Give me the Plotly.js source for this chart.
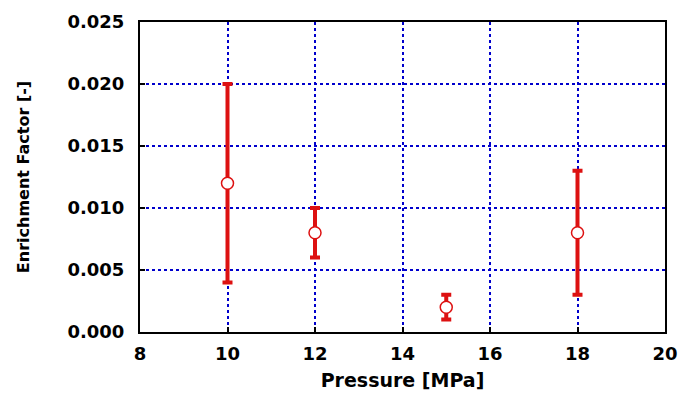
<!DOCTYPE html>
<html><head><meta charset="utf-8">
<script src="https://cdn.plot.ly/plotly-3.0.1.min.js"></script>
<style>body{margin:0;padding:0;background:#fff}</style>
</head><body>
<div id="chart" style="width:681px;height:394px"></div>
<script>
const pressure = [10, 12, 15, 18];
const enrichment = [0.012, 0.008, 0.002, 0.008];
const errUpper = [0.008, 0.002, 0.001, 0.005];
const errLower = [0.008, 0.002, 0.001, 0.005];
const xTicks = [8, 10, 12, 14, 16, 18, 20];
const yTicks = [0, 0.005, 0.010, 0.015, 0.020, 0.025];
const yTickText = ['0.000', '0.005', '0.010', '0.015', '0.020', '0.025'];

const tickFont = {family: 'DejaVu Sans, Liberation Sans, Arial', size: 18, color: '#000', weight: 'bold'};

const trace = {
  x: pressure, y: enrichment, type: 'scatter', mode: 'markers',
  marker: {symbol: 'circle', size: 12, color: '#ffffff', line: {color: '#dd1111', width: 1.5}},
  error_y: {type: 'data', symmetric: false, array: errUpper, arrayminus: errLower,
            color: '#dd1111', thickness: 4, width: 5},
  showlegend: false
};

const layout = {
  width: 681, height: 394,
  margin: {l: 140, r: 16, t: 22, b: 62},
  paper_bgcolor: '#fff', plot_bgcolor: '#fff',
  xaxis: {
    range: [8, 20], tickvals: xTicks, ticktext: xTicks.map(String),
    showgrid: true, gridcolor: '#0000cc', gridwidth: 2, griddash: 'dot',
    showline: true, linecolor: '#000', linewidth: 2, mirror: true,
    ticks: 'inside', ticklen: 5, tickwidth: 2, tickcolor: '#000',
    zeroline: false, tickfont: tickFont, ticklabelstandoff: 4,
    title: {text: 'Pressure [MPa]', font: {family: 'DejaVu Sans, Arial', size: 19, color: '#000', weight: 'bold'}, standoff: 11}
  },
  yaxis: {
    range: [0, 0.025], tickvals: yTicks, ticktext: yTickText,
    showgrid: true, gridcolor: '#0000cc', gridwidth: 2, griddash: 'dot',
    showline: true, linecolor: '#000', linewidth: 2, mirror: true,
    ticks: 'inside', ticklen: 5, tickwidth: 2, tickcolor: '#000',
    zeroline: false, tickfont: tickFont, ticklabelstandoff: 10,
    title: {text: 'Enrichment Factor [-]', font: {family: 'DejaVu Sans, Arial', size: 16, color: '#000', weight: 'bold'}, standoff: 34}
  }
};

Plotly.newPlot('chart', [trace], layout, {displayModeBar: false, staticPlot: true});
</script>
</body></html>
